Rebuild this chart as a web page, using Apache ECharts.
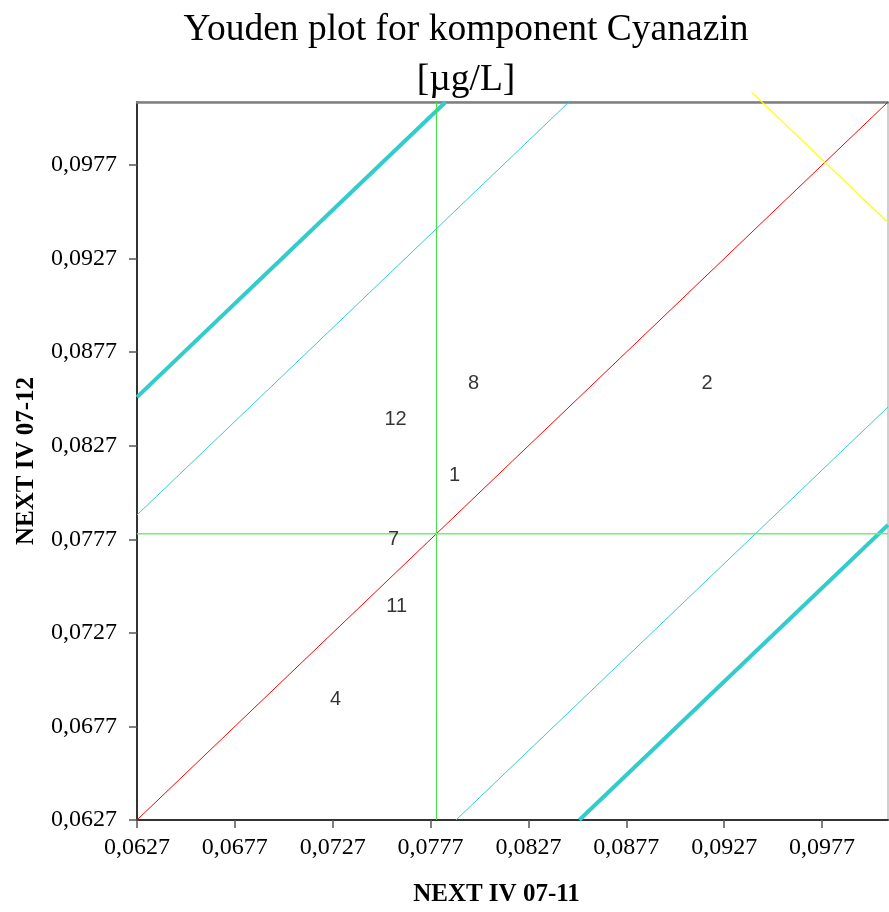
<!DOCTYPE html>
<html>
<head>
<meta charset="utf-8">
<script src="https://cdn.jsdelivr.net/npm/echarts@6/dist/echarts.min.js"></script>
<style>
  html, body { margin: 0; padding: 0; background: #fff; }
  #chart { width: 889px; height: 912px; }
</style>
</head>
<body>
<div id="chart"></div>
<script>
// lab numbers and their results (x = NEXT IV 07-11, y = NEXT IV 07-12)
const labs = ["8", "2", "12", "1", "7", "11", "4"];
const xValues = [0.07989, 0.09183, 0.07591, 0.07892, 0.07581, 0.07597, 0.07285];
const yValues = [0.08602, 0.08602, 0.08410, 0.08111, 0.07769, 0.07412, 0.06916];

// axis ticks (same for both axes)
const tickValues = [0.0627, 0.0677, 0.0727, 0.0777, 0.0827, 0.0877, 0.0927, 0.0977];
const axisMin = 0.0627;
const axisMax = 0.10107;

// reference lines
const median = 0.0780;
const thinOffset = 0.0163;
const thickOffset = 0.0226;
const yellowSum = 0.1957;
const yellowX = [0.0941, 0.10107];

const fmt = (v) => v.toFixed(4).replace(".", ",");

const chart = echarts.init(document.getElementById("chart"));

// y = x + d, clipped to the square axis range
const diag = (d) => {
  const x0 = Math.max(axisMin, axisMin - d);
  const x1 = Math.min(axisMax, axisMax - d);
  return [[x0, x0 + d], [x1, x1 + d]];
};

const lineSeries = (data, color, width, extra) =>
  Object.assign({
    type: "line",
    data: data,
    showSymbol: false,
    silent: true,
    lineStyle: { color: color, width: width },
    z: 2,
  }, extra || {});

const axisCommon = {
  type: "value",
  min: axisMin,
  max: axisMax,
  splitLine: { show: false },
  axisLine: { show: true, onZero: false, lineStyle: { color: "#333", width: 2 } },
  axisTick: { show: true, customValues: tickValues, length: 8, lineStyle: { color: "#555", width: 1.5 } },
  axisLabel: {
    customValues: tickValues,
    formatter: fmt,
    fontFamily: "Liberation Serif",
    fontSize: 24,
    color: "#000",
  },
  nameLocation: "middle",
  nameTextStyle: { fontFamily: "Liberation Serif", fontWeight: "bold", fontSize: 25, color: "#000" },
};

const option = {
  animation: false,
  backgroundColor: "#fff",
  title: {
    text: "Youden plot for komponent Cyanazin\n[µg/L]",
    left: 461,
    top: 0,
    textAlign: "center",
    textStyle: {
      fontFamily: "Liberation Serif",
      fontWeight: "normal",
      fontSize: 37.5,
      lineHeight: 50,
      color: "#000",
    },
  },
  grid: {
    left: 137,
    right: 1,
    top: 102,
    bottom: 91,
    show: true,
    borderColor: "#a0a0a0",
    borderWidth: 1,
  },
  xAxis: [
    Object.assign({}, axisCommon, {
      position: "bottom",
      name: "NEXT IV 07-11",
      nameGap: 62,
      nameTextStyle: Object.assign({}, axisCommon.nameTextStyle, { padding: [0, 32, 0, 0] }),
      axisLabel: Object.assign({}, axisCommon.axisLabel, { margin: 16 }),
    }),
    {
      type: "value",
      position: "top",
      min: axisMin,
      max: axisMax,
      axisLine: { show: true, lineStyle: { color: "#808080", width: 2.5 } },
      axisTick: { show: false },
      axisLabel: { show: false },
      splitLine: { show: false },
    },
  ],
  yAxis: Object.assign({}, axisCommon, {
    name: "NEXT IV 07-12",
    nameGap: 98,
    axisLabel: Object.assign({}, axisCommon.axisLabel, { margin: 20 }),
  }),
  series: [
    lineSeries(diag(0), "#ff0000", 1),
    lineSeries(diag(thinOffset), "#33cccc", 1),
    lineSeries(diag(-thinOffset), "#33cccc", 1),
    lineSeries(diag(thickOffset), "#33cccc", 4),
    lineSeries(diag(-thickOffset), "#33cccc", 4),
    lineSeries([[median, axisMin], [median, axisMax]], "#40e040", 1),
    lineSeries([[axisMin, median], [axisMax, median]], "#70f070", 1.5),
    lineSeries(yellowX.map((x) => [x, yellowSum - x]), "#ffff00", 1.2, { clip: false }),
    {
      type: "scatter",
      data: labs.map((n, i) => [xValues[i], yValues[i], n]),
      symbolSize: 2,
      itemStyle: { color: "rgba(255,255,255,0)" },
      label: {
        show: true,
        position: [1, 1],
        align: "center",
        verticalAlign: "middle",
        formatter: (p) => p.data[2],
        fontFamily: "Liberation Sans",
        fontSize: 20,
        fontWeight: "normal",
        color: "#000",
        textBorderWidth: 0,
      },
      z: 5,
    },
  ],
};

chart.setOption(option);
</script>
</body>
</html>
